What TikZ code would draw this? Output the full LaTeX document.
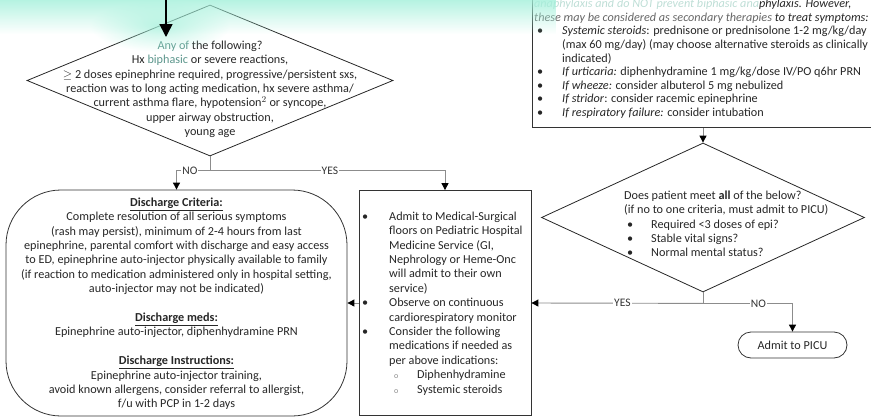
\documentclass[tikz,border=0pt]{standalone}
\usepackage{fontspec}
\setmainfont{Carlito}
\usetikzlibrary{positioning, shapes.geometric, arrows.meta, fadings}

\definecolor{mint}{RGB}{163,240,218}
\definecolor{tealtext}{RGB}{92,150,140}
\definecolor{fadetext}{RGB}{190,222,214}
\tikzfading[name=glowfade, top color=transparent!0, bottom color=transparent!100]
\tikzfading[name=blobfade, inner color=transparent!0, outer color=transparent!100]

\begin{document}
\begin{tikzpicture}[x=1pt, y=-1pt,
  box/.style   = {draw=black!80, line width=0.8pt},
  dia/.style   = {diamond, draw=black!85, line width=0.8pt, inner sep=0pt},
  term/.style  = {box, inner sep=0pt},
  txt/.style   = {font=\fontsize{12.2}{14.4}\selectfont, text=black!85, inner sep=0pt},
  link/.style  = {draw=black!45, line width=0.9pt},
  arr/.style   = {link, -{Triangle[width=7pt, length=7pt, color=black]}},
  lbl/.style   = {fill=white, font=\fontsize{11.5}{12}\selectfont, text=black!80, inner sep=1pt},
]
\useasboundingbox (0,0) rectangle (871,418);
\clip (0,0) rectangle (871,418);

% ---- first question (top left) ----------------------------------------------
\node[dia, minimum width=366, minimum height=151] (q1) at (210,80.5) {};
\node[txt, anchor=north] (q1t) at (210,39)
  {\begin{tabular}{@{}c@{}}
   {\color{tealtext}Any of} the following?\\
   Hx {\color{tealtext}biphasic} or severe reactions,\\
   $\geq$ 2 doses epinephrine required, progressive/persistent sxs,\\
   reaction was to long acting medication, hx severe asthma/\\
   current asthma flare, hypotension$^2$ or syncope,\\
   upper airway obstruction,\\
   young age
   \end{tabular}};

% ---- secondary therapies (top right) ----------------------------------------
\node[box, minimum width=360, minimum height=150, anchor=south west] (sec) at (532,128) {};
\node[txt, font=\fontsize{12.2}{13.6}\selectfont, anchor=north west] (sect) at (534,-2)
  {\begin{tabular}{@{}p{28pt}@{}l@{}}
   \multicolumn{2}{@{}l@{}}{\itshape{\color{fadetext}anaphylaxis and do NOT prevent biphasic ana}phylaxis. However,}\\
   \multicolumn{2}{@{}l@{}}{\itshape{\color{black!60}these may be considered as secondary therapies} to treat symptoms:}\\
   \hspace{3pt}\textbullet & \textit{Systemic steroids}: prednisone or prednisolone 1-2 mg/kg/day\\
   & (max 60 mg/day) (may choose alternative steroids as clinically\\
   & indicated)\\
   \hspace{3pt}\textbullet & \textit{If urticaria:} diphenhydramine 1 mg/kg/dose IV/PO q6hr PRN\\
   \hspace{3pt}\textbullet & \textit{If wheeze:} consider albuterol 5 mg nebulized\\
   \hspace{3pt}\textbullet & \textit{If stridor}: consider racemic epinephrine\\
   \hspace{3pt}\textbullet & \textit{If respiratory failure:} consider intubation
   \end{tabular}};

% ---- second question (right) ------------------------------------------------
\node[dia, minimum width=323, minimum height=149] (q2) at (703,217.5) {};
\node[txt, anchor=north west] (q2t) at (624,189)
  {\begin{tabular}{@{}p{27pt}@{}l@{}}
   \multicolumn{2}{@{}l@{}}{Does patient meet \textbf{all} of the below?}\\
   \multicolumn{2}{@{}l@{}}{(if no to one criteria, must admit to PICU)}\\
   \hspace{3pt}\textbullet & Required <3 doses of epi?\\
   \hspace{3pt}\textbullet & Stable vital signs?\\
   \hspace{3pt}\textbullet & Normal mental status?
   \end{tabular}};

% ---- outcomes ---------------------------------------------------------------
\node[term, rounded corners=55pt, minimum width=341, minimum height=226] (dis) at (176.5,303) {};
\node[txt, anchor=north] (dist) at (176.5,196)
  {\begin{tabular}{@{}c@{}}
   \underline{\textbf{Discharge Criteria:}}\\
   Complete resolution of all serious symptoms\\
   (rash may persist), minimum of 2-4 hours from last\\
   epinephrine, parental comfort with discharge and easy access\\
   to ED, epinephrine auto-injector physically available to family\\
   (if reaction to medication administered only in hospital setting,\\
   auto-injector may not be indicated)\\[14.4pt]
   \underline{\textbf{Discharge meds:}}\\
   Epinephrine auto-injector, diphenhydramine PRN\\[14.4pt]
   \underline{\textbf{Discharge Instructions:}}\\
   Epinephrine auto-injector training,\\
   avoid known allergens, consider referral to allergist,\\
   f/u with PCP in 1-2 days
   \end{tabular}};

\node[box, minimum width=172, minimum height=225] (adm) at (445,303) {};
\node[txt, anchor=north west] (admt) at (362,210)
  {\begin{tabular}{@{}p{27pt}@{}l@{}}
   \textbullet & Admit to Medical-Surgical\\
   & floors on Pediatric Hospital\\
   & Medicine Service (GI,\\
   & Nephrology or Heme-Onc\\
   & will admit to their own\\
   & service)\\
   \textbullet & Observe on continuous\\
   & cardiorespiratory monitor\\
   \textbullet & Consider the following\\
   & medications if needed as\\
   & per above indications:\\
   & \makebox[28pt][l]{\hspace{5pt}{\color{black!45}\footnotesize o}}Diphenhydramine\\
   & \makebox[28pt][l]{\hspace{5pt}{\color{black!45}\footnotesize o}}Systemic steroids
   \end{tabular}};

\node[term, rounded corners=13pt, minimum width=109, minimum height=26, txt] (picu) at (792.5,345) {Admit to PICU};

% ---- highlight glow (top left) ----------------------------------------------
\fill[mint, fill opacity=0.85, path fading=glowfade] (0,-2) rectangle (556,34);
\fill[mint, fill opacity=0.7, path fading=blobfade] (160,26) ellipse (70 and 26);

% ---- connectors -------------------------------------------------------------
\coordinate (src) at (166,-4);
\coordinate (srcTip) at (166,37);
\draw[line width=1.6pt, -{Triangle[width=13pt, length=13pt]}] (src) -- (srcTip);

\draw[link] (q1.south) -- ++(0,14) coordinate (j1);
\draw[arr] (j1) -| node[lbl, pos=0.3] {NO} (dis.north);
\draw[arr] (j1) -| node[lbl, pos=0.255] {YES} (adm.north);
\draw[arr] (adm.west) -- (dis.east);

\draw[arr] (q2.north |- sec.south) -- (q2.north);
\draw[link] (q2.south) -- ++(0,11) coordinate (j2);
\draw[arr] (j2) -- node[lbl, pos=0.47] {YES} (adm.east);
\draw[arr] (j2) -| node[lbl, pos=0.31] {NO} (picu.north);

\end{tikzpicture}
\end{document}
